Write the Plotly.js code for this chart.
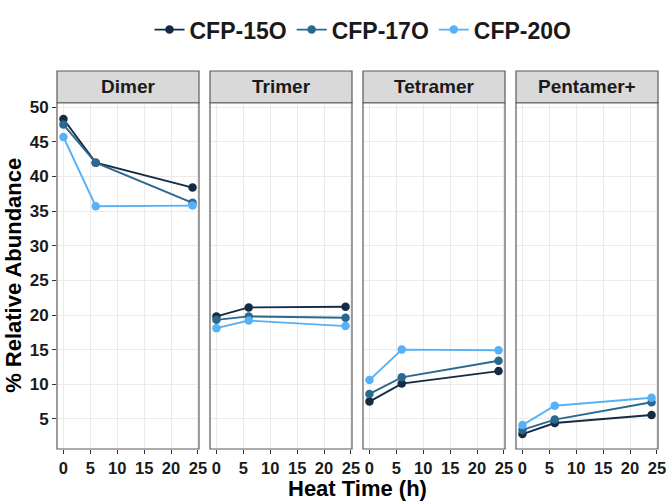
<!DOCTYPE html>
<html>
<head>
<meta charset="utf-8">
<script src="https://cdn.plot.ly/plotly-3.0.1.min.js"></script>
<style>html,body{margin:0;padding:0;background:#fff;}#chart{width:666px;height:503px;}</style>
</head>
<body>
<div id="chart"></div>
<script>
// ---- data ----
const heatTime = [0, 6, 24];
const panelNames = ['Dimer', 'Trimer', 'Tetramer', 'Pentamer+'];
const seriesNames = ['CFP-15O', 'CFP-17O', 'CFP-20O'];
const xTicks = [0, 5, 10, 15, 20, 25];
const yTicks = [5, 10, 15, 20, 25, 30, 35, 40, 45, 50];

const dimer15 = [48.3, 42.0, 38.4];
const dimer17 = [47.5, 42.0, 36.2];
const dimer20 = [45.7, 35.7, 35.8];

const trimer15 = [19.8, 21.1, 21.2];
const trimer17 = [19.3, 19.8, 19.6];
const trimer20 = [18.1, 19.2, 18.4];

const tetramer15 = [7.5, 10.1, 11.9];
const tetramer17 = [8.6, 11.0, 13.4];
const tetramer20 = [10.6, 15.0, 14.9];

const pentamer15 = [2.8, 4.4, 5.55];
const pentamer17 = [3.4, 4.9, 7.4];
const pentamer20 = [4.1, 6.9, 8.05];

const seriesColors = ['#132B43', '#2A6890', '#56B1F7'];

// ---- build ----
const panelData = [
  [dimer15, dimer17, dimer20],
  [trimer15, trimer17, trimer20],
  [tetramer15, tetramer17, tetramer20],
  [pentamer15, pentamer17, pentamer20]
];

const W = 666, H = 503;
const mL = 57, mR = 8, mT = 56, mB = 54;
const plotW = W - mL - mR, plotH = H - mT - mB;
const stripH = 33;
const yTop = (plotH - stripH) / plotH;
const panelPx = [[57, 199], [210, 352], [363, 505], [516, 658]];
const FONT = 'Liberation Sans, Arial, Helvetica, sans-serif';

const traces = [];
panelData.forEach((series, p) => {
  const xa = p === 0 ? 'x' : 'x' + (p + 1);
  series.forEach((vals, s) => {
    traces.push({
      x: heatTime, y: vals, xaxis: xa, yaxis: 'y',
      type: 'scatter', mode: 'lines+markers',
      name: seriesNames[s], legendgroup: seriesNames[s],
      showlegend: p === 0,
      line: {color: seriesColors[s], width: 1.9},
      marker: {color: seriesColors[s], size: 8.5}
    });
  });
});

const layout = {
  width: W, height: H,
  margin: {l: mL, r: mR, t: mT, b: mB, pad: 0},
  paper_bgcolor: '#fff', plot_bgcolor: '#fff',
  font: {family: FONT, color: '#000'},
  showlegend: true,
  legend: {
    orientation: 'h', x: (363 - mL) / plotW, xanchor: 'center',
    y: 1 + (mT - 13) / plotH, yanchor: 'middle',
    font: {family: FONT, size: 23, weight: 'bold', color: '#1a1a1a'},
    bgcolor: 'rgba(0,0,0,0)', itemwidth: 30, tracegroupgap: 0
  },
  yaxis: {
    domain: [0, yTop], range: [0.65, 50.65], anchor: 'x',
    tickvals: yTicks, ticktext: yTicks.map(String),
    ticks: 'outside', ticklen: 4, tickwidth: 1, tickcolor: '#333',
    tickfont: {family: FONT, size: 17, weight: 'bold', color: '#1a1a1a'},
    showgrid: true, gridcolor: '#EBEBEB', gridwidth: 1,
    zeroline: false, showline: false
  },
  shapes: [], annotations: []
};

panelPx.forEach((px, p) => {
  const key = p === 0 ? 'xaxis' : 'xaxis' + (p + 1);
  const ref = p === 0 ? 'x' : 'x' + (p + 1);
  layout[key] = {
    domain: [(px[0] - mL) / plotW, (px[1] - mL) / plotW],
    range: [-1.2, 25.2], anchor: 'y',
    tickvals: xTicks, ticktext: xTicks.map(String),
    ticks: 'outside', ticklen: 4, tickwidth: 1, tickcolor: '#333',
    tickfont: {family: FONT, size: 16.5, weight: 'bold', color: '#1a1a1a'},
    ticklabeloverflow: 'allow',
    showgrid: true, gridcolor: '#EBEBEB', gridwidth: 1,
    zeroline: false, showline: false
  };
  // panel border
  layout.shapes.push({
    type: 'rect', xref: ref + ' domain', yref: 'y domain',
    x0: 0, x1: 1, y0: 0, y1: 1,
    line: {color: '#5a5a5a', width: 1.2}, fillcolor: 'rgba(0,0,0,0)', layer: 'above'
  });
  // strip
  layout.shapes.push({
    type: 'rect', xref: ref + ' domain', yref: 'paper',
    x0: 0, x1: 1, y0: yTop, y1: 1,
    line: {color: '#5a5a5a', width: 1.2}, fillcolor: '#D9D9D9', layer: 'above'
  });
  layout.annotations.push({
    xref: ref + ' domain', yref: 'paper', x: 0.5, y: (yTop + 1) / 2,
    xanchor: 'center', yanchor: 'middle', showarrow: false,
    text: panelNames[p],
    font: {family: FONT, size: 19, weight: 'bold', color: '#1a1a1a'}
  });
});

// axis titles
layout.annotations.push({
  xref: 'paper', yref: 'paper', x: (357 - mL) / plotW, y: (H - mB - 490) / plotH,
  xanchor: 'center', yanchor: 'middle', showarrow: false,
  text: 'Heat Time (h)',
  font: {family: FONT, size: 22, weight: 'bold', color: '#000'}
});
layout.annotations.push({
  xref: 'paper', yref: 'paper', x: (14 - mL) / plotW, y: (plotH - stripH) / 2 / plotH,
  xanchor: 'center', yanchor: 'middle', showarrow: false, textangle: -90,
  text: '% Relative Abundance',
  font: {family: FONT, size: 22, weight: 'bold', color: '#000'}
});

Plotly.newPlot('chart', traces, layout, {displayModeBar: false, staticPlot: true});
</script>
</body>
</html>
